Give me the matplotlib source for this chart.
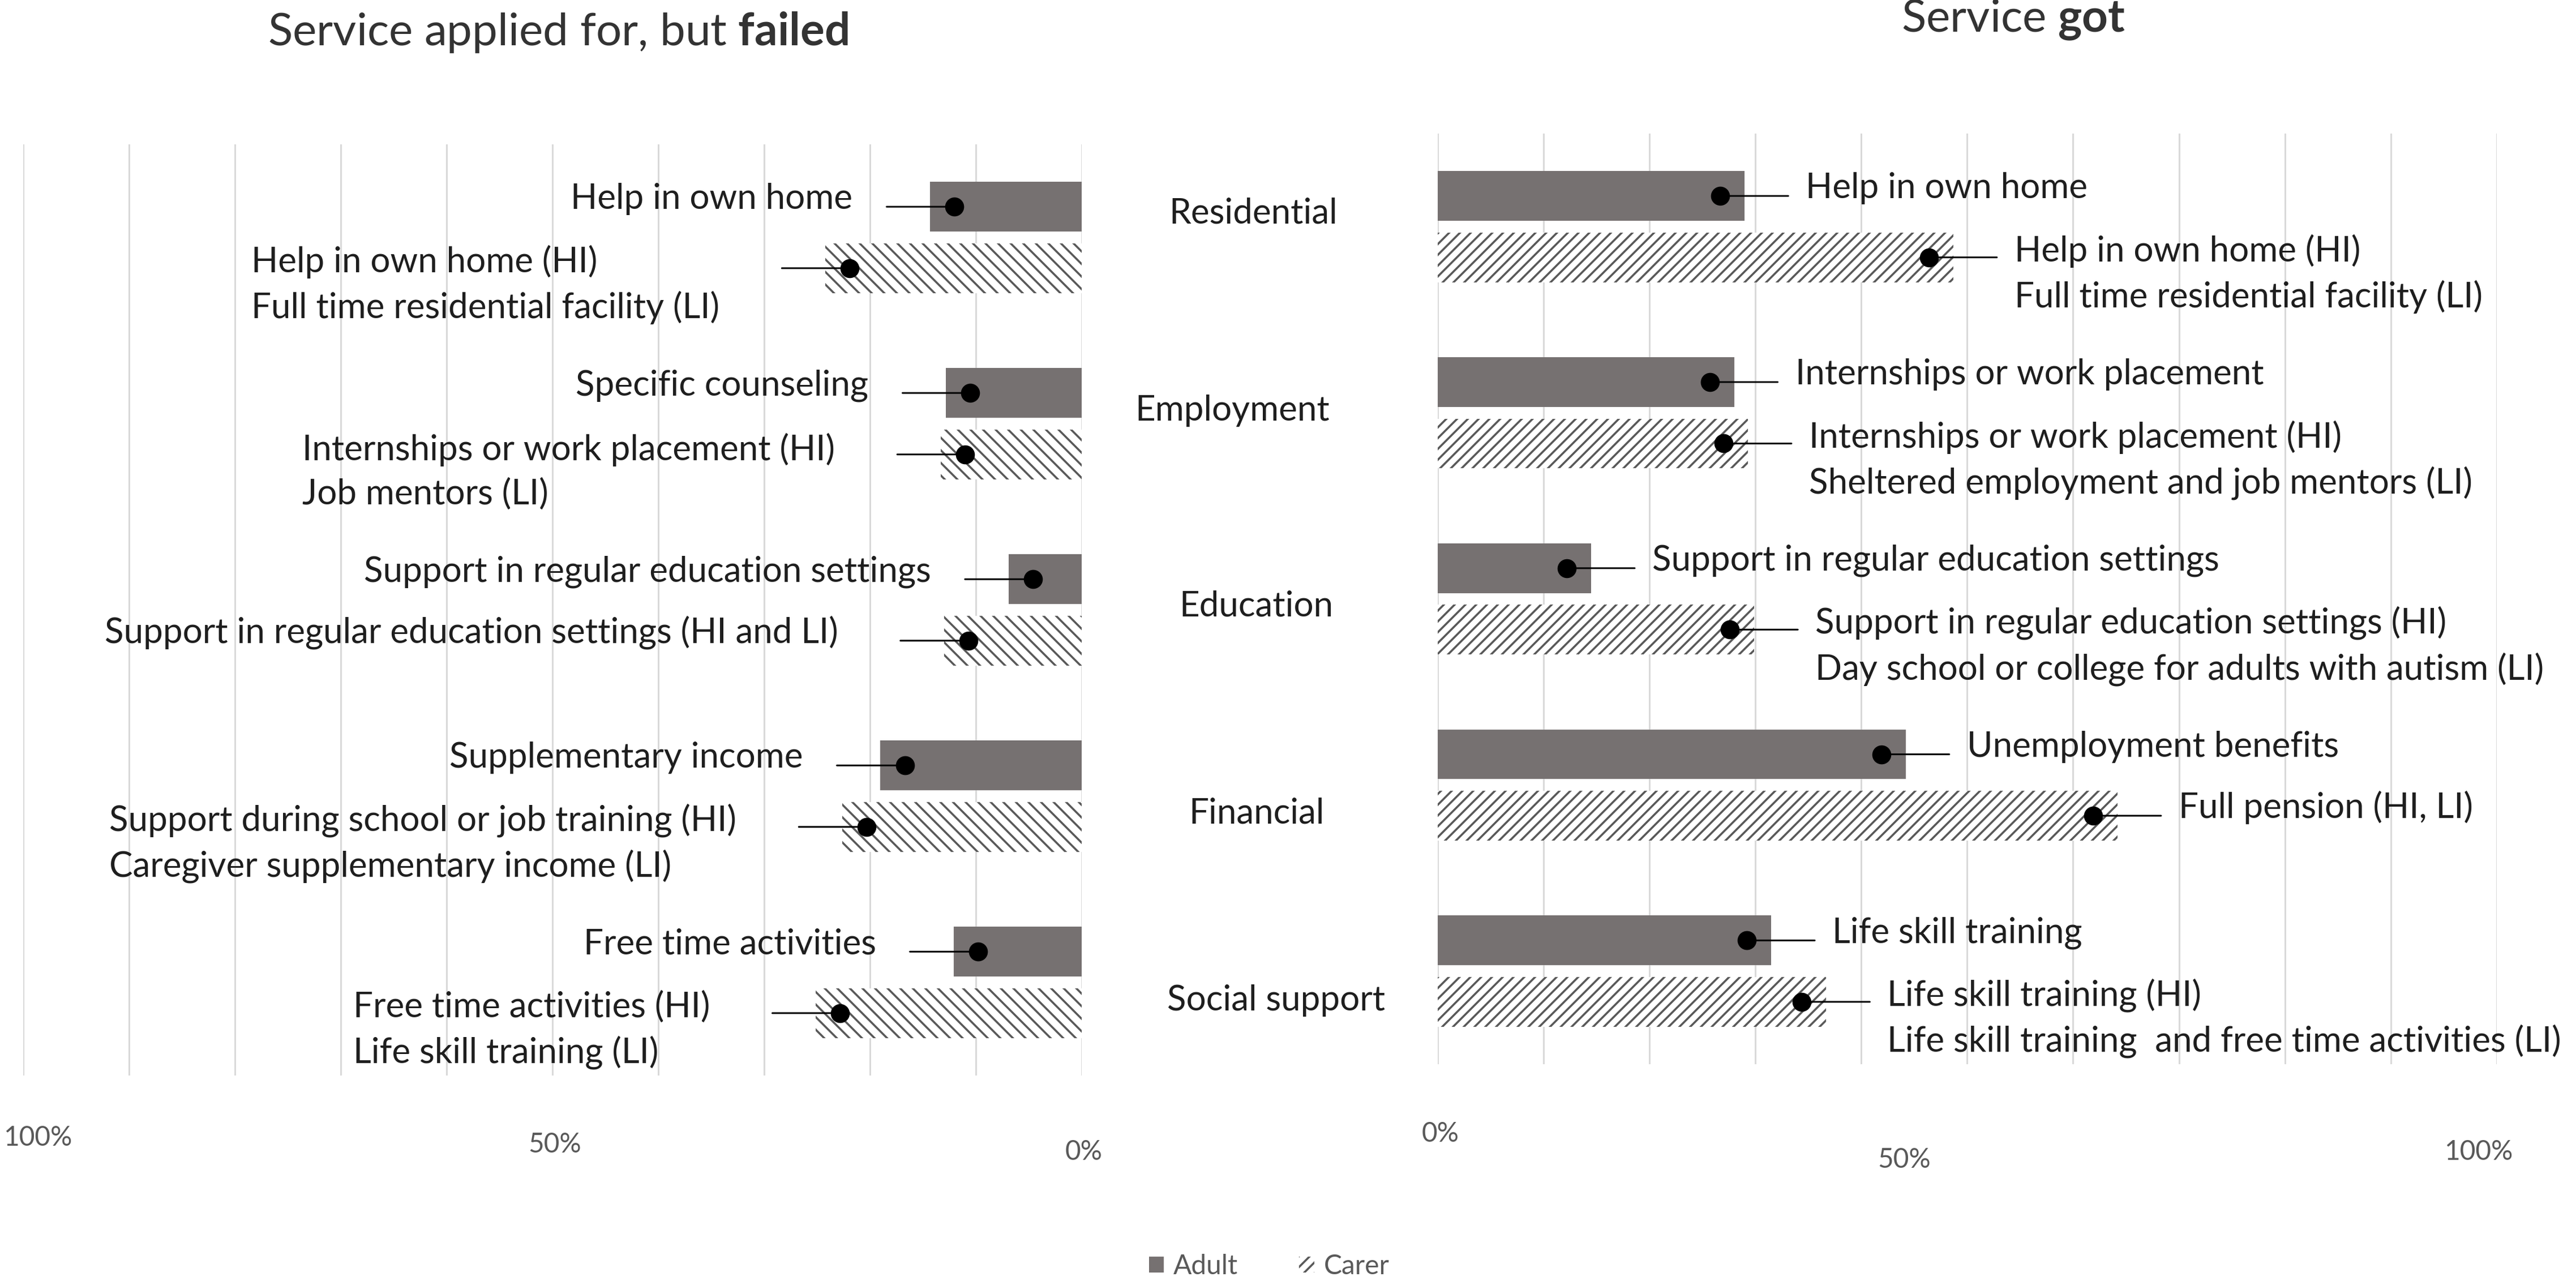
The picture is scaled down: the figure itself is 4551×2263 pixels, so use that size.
import matplotlib
matplotlib.use("Agg")
import matplotlib.pyplot as plt
from matplotlib.patches import Patch
import numpy as np

# Two mirrored bar panels: services applied for but failed / services got
categories = ["Residential", "Employment", "Education", "Financial", "Social support"]

failed_adult = [14.3, 12.8, 6.9, 19.0, 12.1]
failed_carer = [24.2, 13.3, 13.0, 22.6, 25.1]
got_adult = [29.0, 28.0, 14.5, 44.2, 31.5]
got_carer = [48.7, 29.3, 29.9, 64.2, 36.7]

failed_adult_labels = [
    "Help in own home",
    "Specific counseling",
    "Support in regular education settings",
    "Supplementary income",
    "Free time activities",
]
failed_carer_labels = [
    "Help in own home (HI)\nFull time residential facility (LI)",
    "Internships or work placement (HI)\nJob mentors (LI)",
    "Support in regular education settings (HI and LI)",
    "Support during school or job training (HI)\nCaregiver supplementary income (LI)",
    "Free time activities (HI)\nLife skill training (LI)",
]
got_adult_labels = [
    "Help in own home",
    "Internships or work placement",
    "Support in regular education settings",
    "Unemployment benefits",
    "Life skill training",
]
got_carer_labels = [
    "Help in own home (HI)\nFull time residential facility (LI)",
    "Internships or work placement (HI)\nSheltered employment and job mentors (LI)",
    "Support in regular education settings (HI)\nDay school or college for adults with autism (LI)",
    "Full pension (HI, LI)",
    "Life skill training (HI)\nLife skill training  and free time activities (LI)",
]
series_names = ["Adult", "Carer"]

# ---- layout / style ----
W, H, DPI = 4551, 2263, 400


def pt(px):
    return px * 72.0 / DPI


ADULT_C = "#767171"
HATCH_C = "#595959"
GRID_C = "#d9d9d9"
TEXT_C = "#1e1e1e"
TICK_C = "#595959"
LABEL_FS = pt(62)
LINESPACING = 1.45
LINE_PITCH = 84  # px between lines of a two-line label

plt.rcParams["font.family"] = ["Lato", "DejaVu Sans"]
plt.rcParams["mathtext.fontset"] = "custom"
plt.rcParams["mathtext.rm"] = "Lato"
plt.rcParams["mathtext.bf"] = "Lato:bold"
plt.rcParams["hatch.linewidth"] = 0.65

fig = plt.figure(figsize=(W / DPI, H / DPI), dpi=DPI)
ax_l = fig.add_axes([40.8 / W, 1 - 1900 / H, 1870 / W, 1645 / H])
ax_r = fig.add_axes([2539.8 / W, 1 - 1880 / H, 1871 / W, 1644 / H])

OFF = 0.165      # half distance between adult and carer bar centres
BH = 0.267       # bar height
INSET = 2.3      # dot sits a little inside the bar end
LEADER = 120     # leader line length, px


def draw_panel(ax, adult, carer, adult_labels, carer_labels, left, hatch):
    y = np.arange(len(categories))
    ax.barh(y - OFF, adult, height=BH, color=ADULT_C, lw=0, zorder=2)
    ax.barh(y + OFF, carer, height=BH, facecolor="white", edgecolor=HATCH_C,
            hatch=hatch, lw=0, zorder=2)
    ax.set_ylim(len(categories) - 0.5, -0.5)
    ax.set_xlim((100, 0) if left else (0, 100))
    ax.set_xticks(np.arange(0, 101, 10))
    ax.grid(axis="x", color=GRID_C, lw=pt(3))
    ax.grid(axis="y", visible=False)
    ax.set_axisbelow(True)
    ax.tick_params(length=0, labelbottom=False, labelleft=False)
    for s in ax.spines.values():
        s.set_visible(False)

    sign = -1 if left else 1
    groups = [(adult, adult_labels, y - OFF, -180 if left else 151),
              (carer, carer_labels, y + OFF, -230 if left else 151)]
    for vals, labels, ys, dx in groups:
        for v, lab, yi in zip(vals, labels, ys):
            d = v - INSET
            ax.annotate("", xy=(d, yi), xytext=(sign * LEADER, 0),
                        textcoords="offset pixels",
                        arrowprops=dict(arrowstyle="-", color="black",
                                        lw=pt(3), shrinkA=0, shrinkB=0),
                        zorder=3)
            ax.plot(d, yi, "o", ms=pt(28), color="black", zorder=4)
            # the baseline anchor is the last line, so push multi-line labels
            # down to keep the first line next to the dot
            n_extra = lab.count("\n")
            dy = -4 - n_extra * LINE_PITCH
            ax.annotate(lab, xy=(d, yi), xytext=(dx, dy),
                        textcoords="offset pixels",
                        ha="right" if left else "left", va="baseline",
                        multialignment="left", linespacing=LINESPACING,
                        fontsize=LABEL_FS, color=TEXT_C)


draw_panel(ax_l, failed_adult, failed_carer, failed_adult_labels,
           failed_carer_labels, True, "\\" * 6)
draw_panel(ax_r, got_adult, got_carer, got_adult_labels,
           got_carer_labels, False, "/" * 7)

# percent labels under each panel (hand placed in the original)
left_ticks = [100, 50, 0]
left_tick_off = [(26, -110), (4, -122), (4, -135)]
right_ticks = [0, 50, 100]
right_tick_off = [(5, -123), (-111, -169), (-32, -155)]
for ax, ticks, offs in ((ax_l, left_ticks, left_tick_off),
                        (ax_r, right_ticks, right_tick_off)):
    for t, (dx, dy) in zip(ticks, offs):
        ax.annotate(f"{t}%", xy=(t, 0), xycoords=("data", "axes fraction"),
                    xytext=(dx, dy), textcoords="offset pixels",
                    ha="center", va="center", fontsize=pt(48), color=TICK_C)

# category names between the panels (offsets from the right axis, px)
cat_dx = [-326, -363, -320, -320, -285]
cat_dy = [-23, -4, 13, 50, 52]
for i, (cat, dx, dy) in enumerate(zip(categories, cat_dx, cat_dy)):
    ax_r.annotate(cat, xy=(0, i), xytext=(dx, -dy), textcoords="offset pixels",
                  ha="center", va="center", fontsize=LABEL_FS, color=TEXT_C)

# titles
fig.text(986 / W, 1 - 80 / H, r"Service applied for, but $\mathbf{failed}$",
         ha="center", va="baseline", fontsize=pt(80), color="#333333")
fig.text(3557 / W, 1 - 56 / H, r"Service $\mathbf{got}$",
         ha="center", va="baseline", fontsize=pt(80), color="#333333")

# legend
handles = [Patch(facecolor=ADULT_C, lw=0),
           Patch(facecolor="white", edgecolor=HATCH_C, hatch="/" * 7, lw=0)]
fig.legend(handles, series_names, loc="center", bbox_to_anchor=(2242 / W, 1 - 2237 / H),
           ncol=2, frameon=False, fontsize=pt(48), labelcolor=TICK_C,
           handlelength=0.55, handleheight=0.55, handletextpad=0.35,
           columnspacing=2.25, borderpad=0)

fig.savefig("out.png", dpi=DPI)
